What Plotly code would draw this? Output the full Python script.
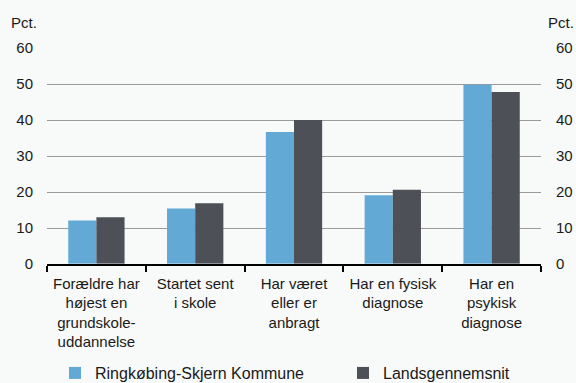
import plotly.graph_objects as go

categories = [
    "Forældre har<br>højest en<br>grundskole-<br>uddannelse",
    "Startet sent<br>i skole",
    "Har været<br>eller er<br>anbragt",
    "Har en fysisk<br>diagnose",
    "Har en<br>psykisk<br>diagnose",
]
kommune = [12.1, 15.4, 36.7, 19.1, 49.8]
lands = [13.0, 16.9, 40.0, 20.6, 47.8]
series_names = ["Ringkøbing-Skjern Kommune", "Landsgennemsnit"]
y_ticks = [0, 10, 20, 30, 40, 50, 60]

BLUE = "#62a9d5"
DARK = "#4d5056"
BG = "#f8f9f9"
FONT = dict(family="Liberation Sans, Arial, sans-serif", size=15, color="#1a1a1a")
LEG_FONT = dict(family="Liberation Sans, Arial, sans-serif", size=16, color="#1a1a1a")

fig = go.Figure()
fig.add_trace(go.Bar(x=categories, y=kommune, name=series_names[0], legend="legend",
                     marker=dict(color=BLUE, line=dict(width=0))))
fig.add_trace(go.Bar(x=categories, y=lands, name=series_names[1], legend="legend2",
                     marker=dict(color=DARK, line=dict(width=0))))
# invisible trace so the right-hand axis is drawn
fig.add_trace(go.Bar(x=categories, y=[0] * len(categories), yaxis="y2",
                     showlegend=False, hoverinfo="skip",
                     marker=dict(color="rgba(0,0,0,0)")))

legend_common = dict(
    orientation="h", xref="container", xanchor="left",
    yref="container", y=0.026, yanchor="middle",
    font=LEG_FONT, itemwidth=30, bgcolor="rgba(0,0,0,0)",
)

fig.update_layout(
    width=576, height=383,
    margin=dict(l=47, r=35, t=48, b=119, autoexpand=False),
    paper_bgcolor=BG, plot_bgcolor=BG,
    font=FONT,
    barmode="group", bargap=0.43, bargroupgap=0,
    xaxis=dict(
        type="category", showline=True, linecolor="#000000", linewidth=1.5,
        ticks="outside", tickson="boundaries", ticklen=6, tickcolor="#000000",
        tickwidth=1.5, showgrid=False, tickfont=FONT, ticklabelstandoff=5,
    ),
    yaxis=dict(
        range=[0, 60], tickvals=y_ticks, showgrid=True, gridcolor="#9a9a9a",
        gridwidth=1, zeroline=False, ticks="", ticklabelstandoff=13,
        tickfont=FONT,
    ),
    yaxis2=dict(
        range=[0, 60], tickvals=y_ticks, overlaying="y", side="right",
        showgrid=False, zeroline=False, ticks="", ticklabelstandoff=14,
        tickfont=FONT,
    ),
    legend=dict(x=55 / 576, **legend_common),
    legend2=dict(x=343 / 576, **legend_common),
    annotations=[
        dict(text="Pct.", xref="paper", yref="paper", x=0, y=1.12,
             xanchor="right", xshift=-8, yanchor="middle", showarrow=False, font=FONT),
        dict(text="Pct.", xref="paper", yref="paper", x=1, y=1.12,
             xanchor="left", xshift=5, yanchor="middle", showarrow=False, font=FONT),
    ],
)

fig.write_html("out.html")
